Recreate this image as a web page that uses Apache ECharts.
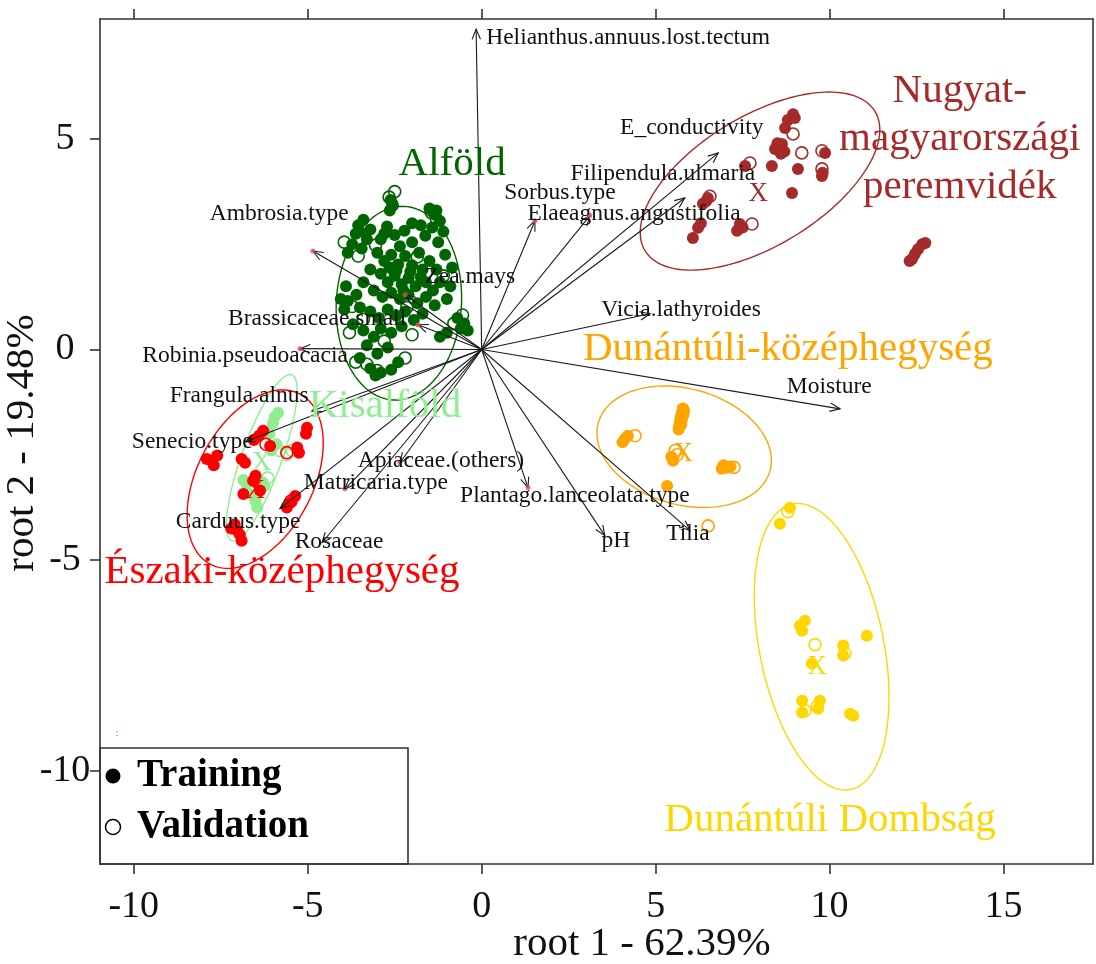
<!DOCTYPE html>
<html>
<head>
<meta charset="utf-8">
<script src="https://cdn.jsdelivr.net/npm/echarts@6/dist/echarts.min.js"></script>
<style>
  html, body { margin: 0; padding: 0; background: #fff; }
  #chart { width: 1096px; height: 964px; }
</style>
</head>
<body>
<div id="chart"></div>
<script>
// ---- Axis setup ----
const xMin = -10.97, xMax = 17.57;
const yMin = -12.22, yMax = 7.85;
const xTicks = [-10, -5, 0, 5, 10, 15];
const yTicks = [-10, -5, 0, 5];
const xTitle = 'root 1 - 62.39%';
const yTitle = 'root 2 - 19.48%';

// ---- Regions (groups) ----
const groupNames = ['Alföld', 'Kisalföld', 'Északi-középhegység',
  'Nugyat-\nmagyarországi\nperemvidék', 'Dunántúli-középhegység', 'Dunántúli Dombság'];
const groupColors = ['#006400', '#90EE90', '#FF0000', '#A52A2A', '#FFA500', '#FFD700'];
const groupLabelPos = [[-0.85, 4.41], [-2.78, -1.34], [-5.74, -5.30], [13.74, 5.0], [8.80, 0.0], [10.01, -11.19]];

// ---- Sample scores: training (filled) and validation (open) ----
const alfoldTrain = [
  [-2.62,3.55],[-2.55,3.42],[-2.64,3.30],[-2.58,3.48],
  [-3.55,2.95],[-3.40,3.08],[-3.62,2.75],[-3.30,2.62],[-3.72,2.50],[-3.45,2.40],[-3.20,2.85],[-3.85,2.30],[-3.50,2.80],
  [-2.72,2.92],[-2.90,2.62],[-2.50,2.72],[-2.22,2.82],[-2.00,2.55],[-2.80,2.75],
  [-1.50,3.35],[-1.35,3.22],[-1.20,3.05],[-1.42,2.90],[-1.10,2.80],[-1.62,2.70],[-1.25,2.55],[-1.30,3.30],
  [-3.00,2.30],[-2.80,2.10],[-2.60,2.25],[-2.40,2.02],[-2.20,2.22],[-2.00,2.00],[-1.80,2.30],[-1.70,1.90],[-1.50,2.10],[-1.30,1.90],
  [-2.90,1.80],[-2.70,1.60],[-2.50,1.75],[-2.30,1.55],[-2.10,1.70],[-1.90,1.50],[-1.60,1.60],[-1.40,1.40],[-1.20,1.60],[-3.20,1.90],[-3.40,1.60],[-3.10,1.40],
  [-2.45,1.88],[-2.05,1.85],[-1.75,1.72],[-2.65,1.95],[-2.25,1.40],
  [-2.85,1.25],[-2.60,1.35],[-2.35,1.20],[-2.10,1.30],[-1.85,1.10],[-1.60,1.25],[-1.35,1.05],[-1.00,1.20],[-0.90,1.50],
  [-3.60,1.30],[-3.85,1.15],[-3.50,1.00],[-3.20,0.90],[-2.95,0.75],[-2.70,0.95],[-2.45,0.80],[-2.20,0.90],[-1.95,0.70],[-1.70,0.85],
  [-3.70,0.60],[-3.40,0.45],[-3.10,0.30],[-2.90,0.50],[-2.60,0.40],[-2.30,0.55],[-3.30,0.10],[-3.00,-0.10],[-2.70,0.05],[-3.50,-0.20],[-3.20,-0.45],[-2.90,-0.55],[-2.60,-0.48],[-2.40,-0.30],[-3.05,-0.62],
  [-0.70,0.75],[-0.50,0.62],[-0.40,0.45],[-0.60,0.50],[-1.00,0.40],[-1.20,0.30],
  [-4.05,1.20],[-3.90,1.50],[-3.95,0.95],[-1.05,2.25],[-0.85,1.95],[-2.00,3.00],[-1.75,2.95],[-2.35,2.45]
];
const alfoldValid = [
  [-2.50,3.75],[-2.66,3.62],[-3.95,2.55],[-3.55,2.22],[-3.05,2.48],[-1.45,3.25],[-1.85,2.20],[-2.55,1.92],
  [-3.72,1.02],[-3.40,0.72],[-0.80,0.62],[-0.55,0.82],[-2.00,0.35],[-3.30,-0.35],[-3.00,-0.50],[-3.62,-0.30],
  [-2.20,-0.20],[-2.80,0.20],[-1.10,1.75],[-2.15,1.00],[-1.30,3.10],[-3.80,0.40]
];
const kisalfoldTrain = [
  [-5.85,-1.50],[-5.95,-1.60],[-6.00,-1.75],[-6.02,-2.30],[-5.90,-2.25],[-6.85,-3.10],[-6.75,-3.20],
  [-6.30,-3.15],[-6.25,-3.25],[-6.60,-3.45],[-6.50,-3.60],[-6.45,-3.75],[-6.10,-2.00],[-6.05,-2.40]
];
const kisalfoldValid = [[-5.80,-2.40],[-5.45,-2.40],[-5.60,-2.50],[-6.15,-3.05]];
const eszakiTrain = [
  [-5.02,-1.86],[-5.05,-2.00],[-6.28,-1.93],[-6.40,-2.05],[-6.55,-2.15],[-7.75,-2.64],[-7.60,-2.52],
  [-7.90,-2.60],[-7.70,-2.75],[-6.80,-2.69],[-6.90,-2.60],[-6.08,-2.29],[-5.30,-2.33],[-5.25,-2.45],
  [-6.57,-3.12],[-6.85,-3.43],[-6.37,-3.35],[-5.36,-3.48],[-5.50,-3.64],[-5.60,-3.75],[-7.03,-4.30],
  [-6.90,-4.54],[-7.10,-4.15],[-6.95,-4.40],[-7.20,-4.25],[-6.50,-3.00]
];
const eszakiValid = [[-5.60,-2.45],[-5.48,-3.60],[-6.20,-2.25]];
const nugyatTrain = [
  [8.95,5.59],[8.72,5.26],[8.63,4.88],[8.43,4.76],[8.55,4.80],[8.34,4.36],[9.09,4.29],[8.92,3.72],
  [8.50,4.90],[8.70,4.70],[8.60,4.65],[8.80,5.45],[9.00,5.50],
  [9.87,4.67],[9.78,4.12],[9.80,4.20],[7.57,4.36],[6.50,3.60],[6.36,3.46],[6.22,2.89],[6.07,2.65],
  [7.42,2.98],[7.34,2.82],[7.50,2.90],[6.30,3.00],[6.45,3.52],
  [12.37,2.15],[12.54,2.38],[12.66,2.50],[12.75,2.53],[12.45,2.27],[12.30,2.10]
];
const nugyatValid = [[8.95,5.12],[9.20,4.67],[9.78,4.72],[9.78,4.29],[7.71,4.43],[7.77,2.98],[6.56,3.64]];
const dunkozTrain = [
  [5.78,-1.40],[5.75,-1.50],[5.72,-1.60],[5.70,-1.70],[5.68,-1.80],[5.66,-1.90],[5.80,-1.55],
  [5.82,-1.45],[5.76,-1.65],[5.74,-1.78],
  [4.12,-2.12],[4.20,-2.05],[4.05,-2.20],[5.50,-2.64],[5.45,-2.55],[7.05,-2.81],[6.90,-2.83],
  [7.15,-2.78],[6.95,-2.75],[5.33,-3.24]
];
const dunkozValid = [[4.41,-2.05],[5.56,-2.40],[7.25,-2.80],[6.51,-4.19],[5.62,-2.50]];
const dombsagTrain = [
  [8.86,-3.76],[8.57,-4.14],[9.29,-6.44],[9.21,-6.68],[9.15,-6.56],[10.39,-7.03],[10.39,-7.27],
  [11.07,-6.80],[9.49,-7.46],[9.21,-8.34],[9.21,-8.62],[9.72,-8.34],[9.67,-8.53],[10.59,-8.65],[10.68,-8.70]
];
const dombsagValid = [[8.80,-3.85],[9.58,-7.01],[10.44,-7.22],[9.29,-8.58],[9.64,-8.48]];

const trainSets = [alfoldTrain, kisalfoldTrain, eszakiTrain, nugyatTrain, dunkozTrain, dombsagTrain];
const validSets = [alfoldValid, kisalfoldValid, eszakiValid, nugyatValid, dunkozValid, dombsagValid];

// ---- Group centroids ("X") ----
const centroidGroups = [1, 2, 3, 4, 5];
const centroidPoints = [[-6.32,-2.69],[-6.51,-3.35],[7.95,3.69],[5.79,-2.47],[9.64,-7.55]];

// ---- Group ellipses: centre and two conjugate half-axis vectors ----
const ellipseCenters = [[-2.38,1.10],[-6.32,-2.57],[-6.51,-3.08],[8.00,4.00],[5.82,-2.31],[9.77,-7.06]];
const ellipseU = [[1.80,0.00],[0.86,1.97],[1.29,2.02],[3.30,1.66],[2.47,-0.56],[-0.83,3.39]];
const ellipseV = [[0.10,2.30],[0.54,-0.16],[1.47,-0.64],[0.98,-1.31],[-0.43,-1.33],[1.75,0.29]];

// ---- Variable loadings (arrows from the origin) ----
const loadingNames = ['Helianthus.annuus.lost.tectum','E_conductivity','Filipendula.ulmaria','Sorbus.type',
  'Elaeagnus.angustifolia','Vicia.lathyroides','Moisture','Ambrosia.type','Zea.mays','Brassicaceae.small',
  'Robinia.pseudoacacia','Frangula.alnus','Senecio.type','Carduus.type','Rosaceae','Matricaria.type',
  'Apiaceae.(others)','Plantago.lanceolata.type','pH','Tilia'];
const loadingTips = [[-0.16,7.61],[6.80,4.67],[5.84,3.60],[1.53,3.06],[3.11,3.18],[4.84,0.85],[10.30,-1.41],
  [-4.85,2.34],[-2.20,1.30],[-1.83,0.59],[-5.22,0.02],[-4.88,-1.46],[-6.80,-2.19],[-5.80,-3.78],[-4.59,-4.59],
  [-3.93,-3.31],[-2.35,-2.69],[1.33,-3.28],[3.54,-4.42],[5.99,-4.30]];
const loadingLabelPos = [[4.21,7.40],[6.04,5.26],[5.21,4.17],[2.25,3.72],[4.38,3.22],[5.73,0.94],[9.99,-0.89],
  [-5.82,3.22],[-0.34,1.73],[-4.73,0.73],[-6.80,-0.15],[-6.97,-1.10],[-8.32,-2.19],[-7.00,-4.09],[-4.10,-4.56],
  [-3.04,-3.17],[-1.17,-2.64],[2.68,-3.47],[3.86,-4.54],[5.93,-4.37]];
// pollen-type loadings carry a small marker at the tip
const tipMarked = ['Sorbus.type','Elaeagnus.angustifolia','Ambrosia.type','Zea.mays','Brassicaceae.small',
  'Robinia.pseudoacacia','Matricaria.type','Plantago.lanceolata.type','Apiaceae.(others)'];

const SERIF = '"Liberation Serif", "DejaVu Serif", serif';

const chart = echarts.init(document.getElementById('chart'), null, { renderer: 'canvas' });

const series = [];

// ellipses
series.push({
  type: 'custom',
  coordinateSystem: 'cartesian2d',
  silent: true,
  z: 1,
  data: ellipseCenters.map(c => [c[0], c[1]]),
  renderItem(params, api) {
    const i = params.dataIndex;
    const c = ellipseCenters[i], u = ellipseU[i], v = ellipseV[i];
    const pts = [];
    for (let k = 0; k <= 160; k++) {
      const t = k / 160 * 2 * Math.PI;
      pts.push(api.coord([c[0] + u[0] * Math.cos(t) + v[0] * Math.sin(t),
                          c[1] + u[1] * Math.cos(t) + v[1] * Math.sin(t)]));
    }
    return { type: 'polyline', shape: { points: pts },
      style: { stroke: groupColors[i], fill: null, lineWidth: 1.4 } };
  }
});

// training (filled) and validation (open) points
groupNames.forEach((g, i) => {
  series.push({
    type: 'scatter', name: g + ' training', data: trainSets[i], symbol: 'circle', symbolSize: 12,
    itemStyle: { color: groupColors[i], opacity: 1 }, z: 2, silent: true
  });
  series.push({
    type: 'scatter', name: g + ' validation', data: validSets[i], symbol: 'circle', symbolSize: 12,
    itemStyle: { color: 'rgba(255,255,255,0)', borderColor: groupColors[i], borderWidth: 1.6, opacity: 1 },
    z: 2, silent: true
  });
});

// centroid markers
series.push({
  type: 'custom', coordinateSystem: 'cartesian2d', silent: true, z: 3,
  data: centroidPoints,
  renderItem(params, api) {
    const p = api.coord([api.value(0), api.value(1)]);
    return { type: 'text', x: p[0], y: p[1],
      style: { text: 'X', fill: groupColors[centroidGroups[params.dataIndex]], font: '27px ' + SERIF,
        align: 'center', verticalAlign: 'middle' } };
  }
});

// loading arrows
series.push({
  type: 'custom', coordinateSystem: 'cartesian2d', silent: true, z: 4,
  data: loadingTips.map(p => [0, 0, p[0], p[1]]),
  encode: { x: [0, 2], y: [1, 3] },
  renderItem(params, api) {
    const a = api.coord([api.value(0), api.value(1)]);
    const b = api.coord([api.value(2), api.value(3)]);
    const ang = Math.atan2(b[1] - a[1], b[0] - a[0]);
    const L = 11, w = Math.PI / 8;
    const p1 = [b[0] - L * Math.cos(ang - w), b[1] - L * Math.sin(ang - w)];
    const p2 = [b[0] - L * Math.cos(ang + w), b[1] - L * Math.sin(ang + w)];
    return { type: 'group', children: [
      { type: 'line', shape: { x1: a[0], y1: a[1], x2: b[0], y2: b[1] }, style: { stroke: '#1a1a1a', lineWidth: 1.1 } },
      { type: 'polyline', shape: { points: [p1, b, p2] }, style: { stroke: '#1a1a1a', fill: null, lineWidth: 1.1 } }
    ] };
  }
});

// tip markers
series.push({
  type: 'scatter', silent: true, z: 5, symbol: 'circle', symbolSize: 5,
  itemStyle: { color: '#e8475f' },
  data: loadingNames.map((n, i) => tipMarked.includes(n) ? loadingTips[i] : null).filter(d => d)
});

// loading labels
series.push({
  type: 'custom', coordinateSystem: 'cartesian2d', silent: true, z: 6,
  data: loadingLabelPos,
  renderItem(params, api) {
    const p = api.coord([api.value(0), api.value(1)]);
    return { type: 'text', x: p[0], y: p[1],
      style: { text: loadingNames[params.dataIndex], fill: '#111', font: '23.5px ' + SERIF,
        align: 'center', verticalAlign: 'middle' } };
  }
});

// group labels
series.push({
  type: 'custom', coordinateSystem: 'cartesian2d', silent: true, z: 6,
  data: groupLabelPos,
  renderItem(params, api) {
    const p = api.coord([api.value(0), api.value(1)]);
    return { type: 'text', x: p[0], y: p[1],
      style: { text: groupNames[params.dataIndex], fill: groupColors[params.dataIndex], font: '41px ' + SERIF,
        align: 'center', verticalAlign: 'middle', lineHeight: 48 } };
  }
});

const axisLineStyle = { color: '#333', width: 1.6 };

const option = {
  backgroundColor: '#fff',
  animation: false,
  grid: { left: 100, right: 3, top: 19, bottom: 100, containLabel: false, outerBoundsMode: 'none' },
  xAxis: [{
    type: 'value', position: 'bottom', min: xMin, max: xMax,
    splitLine: { show: false },
    axisLine: { show: true, onZero: false, lineStyle: axisLineStyle },
    axisTick: { show: true, length: 10, customValues: xTicks, lineStyle: axisLineStyle },
    axisLabel: { customValues: xTicks, fontFamily: SERIF, fontSize: 38, color: '#111', margin: 24 }
  }, {
    type: 'value', position: 'top', min: xMin, max: xMax,
    splitLine: { show: false },
    axisLine: { show: true, onZero: false, lineStyle: axisLineStyle },
    axisTick: { show: true, length: 10, customValues: xTicks, lineStyle: axisLineStyle },
    axisLabel: { show: false }
  }],
  yAxis: [{
    type: 'value', position: 'left', min: yMin, max: yMax,
    splitLine: { show: false },
    axisLine: { show: true, onZero: false, lineStyle: axisLineStyle },
    axisTick: { show: true, length: 10, customValues: yTicks, lineStyle: axisLineStyle },
    axisLabel: { customValues: yTicks, fontFamily: SERIF, fontSize: 38, color: '#111', margin: 35, align: 'center' }
  }, {
    type: 'value', position: 'right', min: yMin, max: yMax,
    splitLine: { show: false },
    axisLine: { show: true, onZero: false, lineStyle: axisLineStyle },
    axisTick: { show: false }, axisLabel: { show: false }
  }],
  series: series,
  graphic: [
    { type: 'text', x: 642, y: 944, z: 10,
      style: { text: xTitle, font: '41px ' + SERIF, fill: '#111', align: 'center', verticalAlign: 'middle' } },
    { type: 'text', x: 22, y: 443, rotation: Math.PI / 2, z: 10,
      style: { text: yTitle, font: '41px ' + SERIF, fill: '#111', align: 'center', verticalAlign: 'middle' } },
    { type: 'text', x: 117, y: 733, z: 10,
      style: { text: ':', font: '10px ' + SERIF, fill: '#3a9a3a', align: 'center', verticalAlign: 'middle' } },
    { type: 'group', z: 20, children: [
      { type: 'rect', shape: { x: 100, y: 748, width: 308, height: 116 },
        style: { fill: '#fff', stroke: '#333', lineWidth: 1.6 } },
      { type: 'circle', shape: { cx: 113, cy: 776, r: 7.5 }, style: { fill: '#000' } },
      { type: 'text', x: 137, y: 776,
        style: { text: 'Training', font: 'bold 39px ' + SERIF, fill: '#000', verticalAlign: 'middle' } },
      { type: 'circle', shape: { cx: 113, cy: 827, r: 7.5 }, style: { fill: null, stroke: '#000', lineWidth: 1.5 } },
      { type: 'text', x: 137, y: 827,
        style: { text: 'Validation', font: 'bold 39px ' + SERIF, fill: '#000', verticalAlign: 'middle' } }
    ] }
  ]
};

chart.setOption(option);
</script>
</body>
</html>
